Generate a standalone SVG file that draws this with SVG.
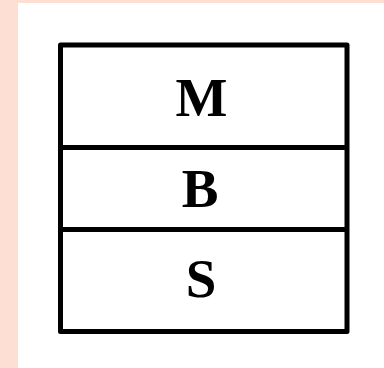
<svg xmlns="http://www.w3.org/2000/svg" width="384" height="368" viewBox="0 0 384 368">
<style>
.ln{fill:none;stroke:#000;stroke-width:5;stroke-linejoin:round}
.t{font-family:"Liberation Serif",serif;font-weight:bold;font-size:55px;fill:#000;text-anchor:middle}
</style>
<rect x="0" y="0" width="384" height="368" fill="#fddfd3"/>
<rect x="18" y="3" width="366" height="365" fill="#fff"/>
<g id="stack">
<rect class="ln" x="60.5" y="45" width="286.5" height="286.5" fill="#fff"/>
</g>
<g id="connectors">
<line class="ln" x1="60.5" y1="147.5" x2="347" y2="147.5"/>
<line class="ln" x1="60.5" y1="229.5" x2="347" y2="229.5"/>
</g>
<g id="M"><text class="t" x="201.5" y="116">M</text></g>
<g id="B"><text class="t" x="200" y="207">B</text></g>
<g id="S"><text class="t" x="201" y="297">S</text></g>
</svg>
